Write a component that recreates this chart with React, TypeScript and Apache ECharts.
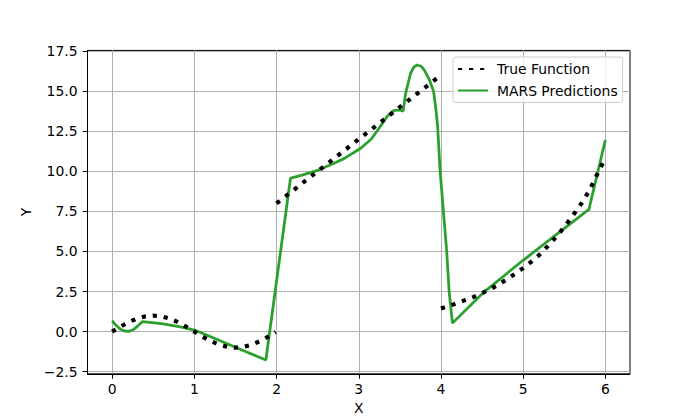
import React, { useEffect, useRef } from "react";
import * as echarts from "echarts";

const FONT = "DejaVu Sans";

// True function; null marks a break between pieces
const trueX = [
  0, 0.1, 0.2, 0.3, 0.4, 0.5, 0.6, 0.7, 0.8, 0.9, 1.0, 1.1, 1.2, 1.3, 1.4, 1.5, 1.6, 1.7, 1.8, 1.9, 1.99,
  1.995,
  2.0, 2.5, 3.0, 3.5, 3.99,
  3.995,
  4.0, 4.1, 4.2, 4.3, 4.4, 4.5, 4.6, 4.7, 4.8, 4.9, 5.0, 5.1, 5.2, 5.3, 5.4, 5.5, 5.6, 5.7, 5.8, 5.9, 6.0,
];
const trueY: (number | null)[] = [
  0, 0.31, 0.59, 0.81, 0.95, 1.0, 0.95, 0.81, 0.59, 0.31, 0, -0.31, -0.59, -0.81, -0.95, -1.0, -0.95, -0.81, -0.59, -0.31, -0.03,
  null,
  8.0, 10.0, 12.0, 14.0, 15.96,
  null,
  1.45, 1.6, 1.78, 1.98, 2.17, 2.4, 2.65, 2.93, 3.25, 3.6, 3.96, 4.36, 4.8, 5.33, 5.9, 6.52, 7.2, 7.93, 8.75, 9.8, 10.82,
];

// MARS predictions
const marsX = [
  0.0, 0.05, 0.1, 0.15, 0.2, 0.25, 0.3, 0.37, 0.6, 0.83, 1.0, 1.2, 1.4, 1.6, 1.87,
  2.17, 2.3, 2.5, 2.7, 2.82, 3.02, 3.15, 3.23, 3.35, 3.43, 3.5, 3.54, 3.57, 3.63, 3.67, 3.71, 3.76, 3.8, 3.86, 3.91, 3.94, 3.96, 3.99, 4.03, 4.07, 4.1, 4.14,
  4.53, 5.0, 5.8, 6.0,
];
const marsY = [
  0.68, 0.38, 0.15, 0.04, 0.02, 0.1, 0.3, 0.63, 0.5, 0.3, 0.1, -0.32, -0.76, -1.19, -1.77,
  9.58, 9.75, 10.06, 10.5, 10.79, 11.42, 12.0, 12.56, 13.45, 13.8, 13.82, 13.75, 14.85, 16.1, 16.5, 16.63, 16.55, 16.3, 15.7, 15.0, 13.8, 12.77, 10.0, 7.5, 5.0, 2.5, 0.53,
  2.5, 4.45, 7.62, 11.95,
];

const xTicks = [0, 1, 2, 3, 4, 5, 6];
const yTicks = [-2.5, 0, 2.5, 5, 7.5, 10, 12.5, 15, 17.5];

export default function App() {
  const ref = useRef<HTMLDivElement>(null);
  useEffect(() => {
    if (!ref.current) return;
    const chart = echarts.init(ref.current, undefined, { renderer: "svg" });
    const truePts = trueX.map((x, i) => [x, trueY[i] === null ? "-" : trueY[i]]);
    const marsPts = marsX.map((x, i) => [x, marsY[i]]);
    const labelStyle = { color: "#000", fontSize: 13.9, fontFamily: FONT };
    chart.setOption({
      animation: false,
      backgroundColor: "#ffffff",
      grid: {
        left: 87.5,
        top: 50.4,
        width: 542.5,
        height: 323.4,
        show: true,
        borderColor: "#000",
        borderWidth: 1,
        backgroundColor: "transparent",
        containLabel: false,
      },
      xAxis: {
        type: "value",
        min: -0.3,
        max: 6.3,
        name: "X",
        nameLocation: "middle",
        nameGap: 26,
        nameTextStyle: labelStyle,
        axisLine: { show: true, onZero: false, lineStyle: { color: "#000", width: 1 } },
        axisTick: { show: true, length: 5, lineStyle: { color: "#000", width: 1 }, customValues: xTicks },
        axisLabel: { ...labelStyle, margin: 8, customValues: xTicks, formatter: (v: number) => String(v) },
        splitLine: { show: true, lineStyle: { color: "#b0b0b0", width: 1 } },
      },
      yAxis: {
        type: "value",
        min: -2.63,
        max: 17.54,
        name: "Y",
        nameLocation: "middle",
        nameGap: 50,
        nameTextStyle: labelStyle,
        axisLine: { show: true, onZero: false, lineStyle: { color: "#000", width: 1 } },
        axisTick: { show: true, length: 5, lineStyle: { color: "#000", width: 1 }, customValues: yTicks },
        axisLabel: {
          ...labelStyle,
          margin: 10,
          customValues: yTicks,
          formatter: (v: number) => (v < 0 ? "\u2212" : "") + Math.abs(v).toFixed(1),
        },
        splitLine: { show: true, lineStyle: { color: "#b0b0b0", width: 1 } },
      },
      legend: {
        data: ["True Function", "MARS Predictions"],
        orient: "vertical",
        left: 453,
        top: 57,
        padding: [5, 5, 5, 4],
        itemGap: 7.5,
        itemWidth: 30,
        itemHeight: 14,
        itemStyle: { opacity: 0 },
        backgroundColor: "rgba(255,255,255,0.8)",
        borderColor: "#cccccc",
        borderWidth: 1,
        borderRadius: 3,
        textStyle: { color: "#000", fontSize: 13.9, fontFamily: FONT, padding: [0, 0, 0, 4] },
      },
      series: [
        {
          type: "line",
          name: "MARS Predictions",
          data: marsPts,
          symbol: "none",
          showSymbol: false,
          lineStyle: { color: "#2ca02c", width: 2.78 },
          itemStyle: { color: "#2ca02c" },
          z: 2,
        },
        {
          type: "line",
          name: "True Function",
          data: truePts,
          symbol: "none",
          showSymbol: false,
          connectNulls: false,
          lineStyle: { color: "#000", width: 4.17, type: [4.17, 6.875], cap: "butt" },
          itemStyle: { color: "#000" },
          z: 3,
        },
      ],
    });
    return () => chart.dispose();
  }, []);
  return (
    <div
      ref={ref}
      style={{ position: "fixed", left: 0, top: 0, width: 700, height: 420 }}
    />
  );
}
